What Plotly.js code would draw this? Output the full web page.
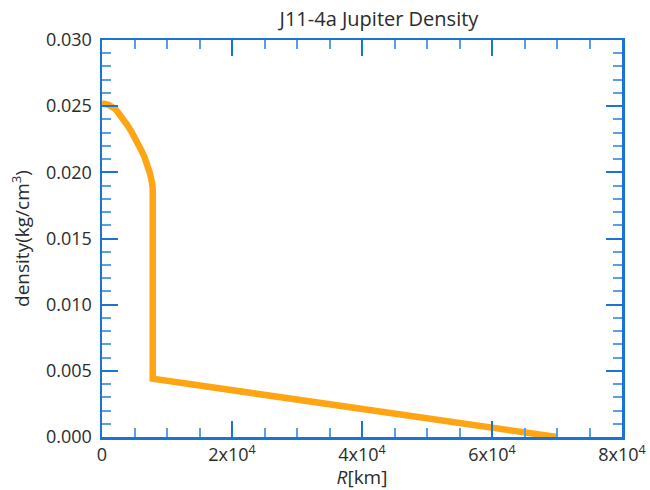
<!DOCTYPE html>
<html>
<head>
<meta charset="utf-8">
<script src="https://cdn.plot.ly/plotly-3.0.1.min.js"></script>
<style>
  html, body { margin: 0; padding: 0; background: #fff; }
  #chart { width: 650px; height: 490px; }
</style>
</head>
<body>
<div id="chart"></div>
<script>
// Jupiter interior model J11-4a: density vs. radius
const radiusKm = [0, 500, 1000, 1500, 2000, 2500, 3000, 3500, 4000, 4500, 5000, 5500, 6000, 6500, 7000, 7400, 7700, 7800, 7800, 70000];
const densityKgCm3 = [0.0252, 0.02518, 0.0251, 0.02495, 0.0248, 0.0245, 0.0242, 0.0239, 0.0235, 0.0231, 0.0227, 0.0222, 0.0217, 0.0212, 0.0206, 0.0199, 0.0192, 0.0188, 0.0044, 0.0];

const xTickVals = [0, 20000, 40000, 60000, 80000];
const xTickText = ['0', '2x10<sup>4</sup>', '4x10<sup>4</sup>', '6x10<sup>4</sup>', '8x10<sup>4</sup>'];
const yTickVals = [0, 0.005, 0.010, 0.015, 0.020, 0.025, 0.030];
const yTickText = ['0.000', '0.005', '0.010', '0.015', '0.020', '0.025', '0.030'];

const axisBlue = '#1a74d8';
const tickBlue = '#5a9ee6';
const textColor = '#2b2b2b';
const fontFamily = '"Open Sans", "Noto Sans", sans-serif';

const trace = {
  x: radiusKm,
  y: densityKgCm3,
  type: 'scatter',
  mode: 'lines',
  line: { color: '#ffa514', width: 6.5 },
  hoverinfo: 'skip'
};

const axisCommon = {
  showgrid: false,
  zeroline: false,
  showline: true,
  linecolor: axisBlue,
  linewidth: 2.5,
  mirror: 'allticks',
  ticks: 'inside',
  ticklen: 16,
  tickwidth: 2,
  tickcolor: axisBlue,
  tickfont: { family: fontFamily, size: 18, color: textColor },
  tickmode: 'array'
};

const layout = {
  width: 650,
  height: 490,
  margin: { l: 102, r: 28, t: 40, b: 53 },
  paper_bgcolor: '#ffffff',
  plot_bgcolor: '#ffffff',
  showlegend: false,
  title: {
    text: 'J11-4a Jupiter Density',
    font: { family: fontFamily, size: 20, color: textColor },
    xref: 'container', x: 0.583, xanchor: 'center',
    yref: 'container', y: 0.962, yanchor: 'middle'
  },
  xaxis: Object.assign({}, axisCommon, {
    range: [0, 80000],
    tickvals: xTickVals,
    ticktext: xTickText,
    minor: { dtick: 5000, ticks: 'inside', ticklen: 9, tickwidth: 2, tickcolor: tickBlue },
    title: {
      text: '<i>R</i>[km]',
      font: { family: fontFamily, size: 19, color: textColor },
      standoff: 0
    }
  }),
  yaxis: Object.assign({}, axisCommon, {
    range: [0, 0.030],
    tickvals: yTickVals,
    ticktext: yTickText,
    ticklabelstandoff: 4,
    minor: { dtick: 0.001, ticks: 'inside', ticklen: 9, tickwidth: 2, tickcolor: tickBlue },
    title: {
      text: 'density(kg/cm<sup>3</sup>)',
      font: { family: fontFamily, size: 19, color: textColor },
      standoff: 12
    }
  })
};

Plotly.newPlot('chart', [trace], layout, { staticPlot: true, displayModeBar: false });
</script>
</body>
</html>
